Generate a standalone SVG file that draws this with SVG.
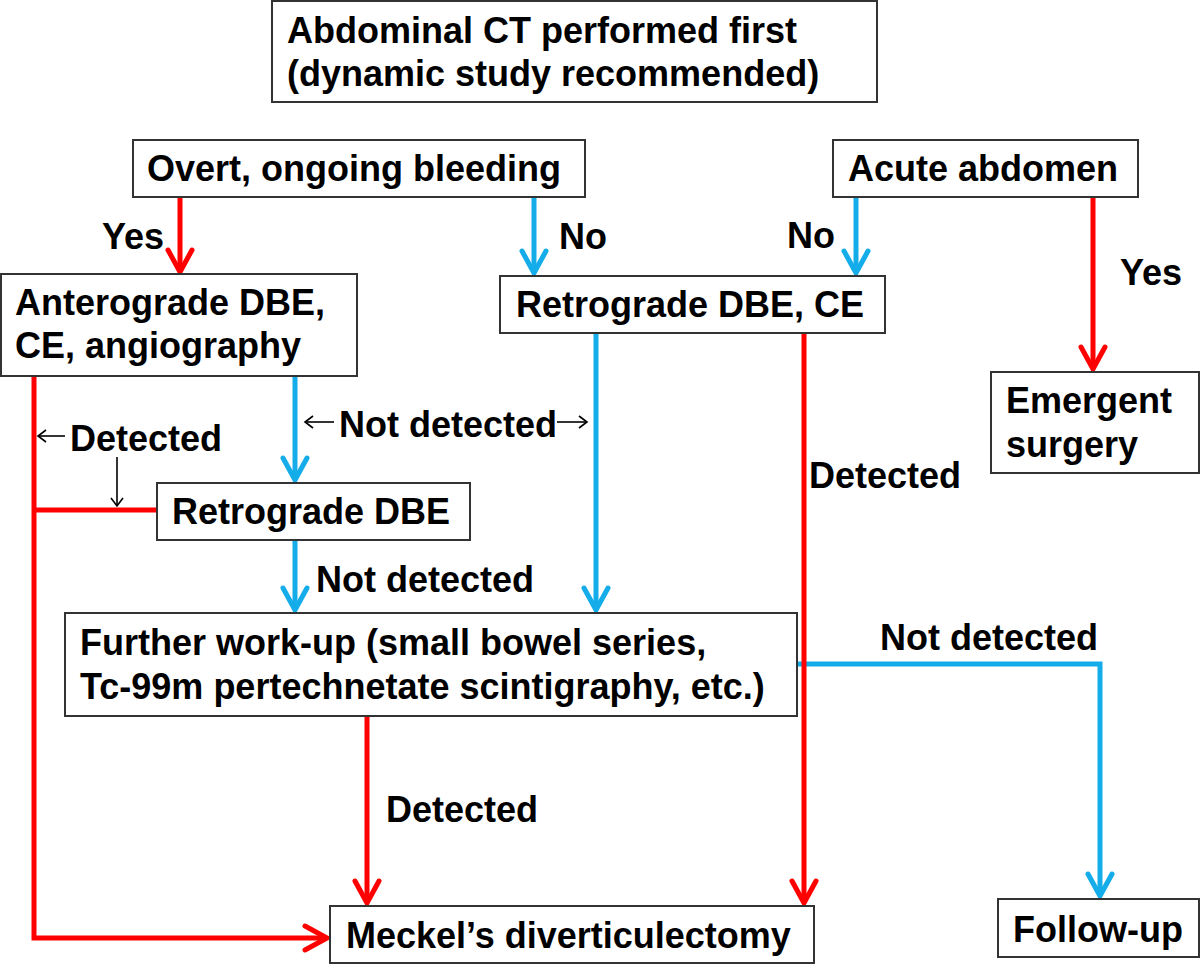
<svg xmlns="http://www.w3.org/2000/svg" width="1200" height="965" viewBox="0 0 1200 965">
<defs>
<style>
.box{fill:#fff;stroke:#333;stroke-width:2}
.t{font-family:"Liberation Sans",Arial,Helvetica,sans-serif;font-weight:bold;font-size:36px;fill:#000}
.red{stroke:#ff0000;stroke-width:5;fill:none}
.blue{stroke:#14ade9;stroke-width:5;fill:none}
.blk{stroke:#000;stroke-width:1.6;fill:none}
</style>
<marker id="ar" markerUnits="userSpaceOnUse" markerWidth="40" markerHeight="40" refX="0" refY="0" orient="auto" overflow="visible">
<path d="M-22,-12 L0,0 L-22,12" fill="none" stroke="#ff0000" stroke-width="5" stroke-linejoin="miter" stroke-linecap="round"/>
</marker>
<marker id="ab" markerUnits="userSpaceOnUse" markerWidth="40" markerHeight="40" refX="0" refY="0" orient="auto" overflow="visible">
<path d="M-22,-12 L0,0 L-22,12" fill="none" stroke="#14ade9" stroke-width="5" stroke-linejoin="miter" stroke-linecap="round"/>
</marker>
<marker id="ak" markerUnits="userSpaceOnUse" markerWidth="20" markerHeight="20" refX="0" refY="0" orient="auto" overflow="visible">
<path d="M-8,-6 L0,0 L-8,6" fill="none" stroke="#000" stroke-width="1.6"/>
</marker>
</defs>
<rect width="1200" height="965" fill="#fff"/>

<g id="connectors">
<line class="red" x1="180" y1="197" x2="180" y2="272" marker-end="url(#ar)"/>
<line class="blue" x1="534" y1="197" x2="534" y2="273" marker-end="url(#ab)"/>
<line class="blue" x1="856" y1="197" x2="856" y2="273" marker-end="url(#ab)"/>
<line class="red" x1="1093" y1="197" x2="1093" y2="369" marker-end="url(#ar)"/>
<polyline class="red" points="34,376 34,938 327,938" marker-end="url(#ar)"/>
<line class="red" x1="34" y1="510" x2="157" y2="510"/>
<line class="blue" x1="295" y1="376" x2="295" y2="480" marker-end="url(#ab)"/>
<line class="blue" x1="596" y1="333" x2="596" y2="610" marker-end="url(#ab)"/>
<line class="blue" x1="295" y1="540" x2="295" y2="610" marker-end="url(#ab)"/>
<polyline class="blue" points="797,664 1100,664 1100,896" marker-end="url(#ab)"/>
<line class="red" x1="804" y1="333" x2="804" y2="903" marker-end="url(#ar)"/>
<line class="red" x1="367" y1="716" x2="367" y2="903" marker-end="url(#ar)"/>
<line class="blk" x1="65" y1="436" x2="38" y2="436" marker-end="url(#ak)"/>
<line class="blk" x1="117" y1="457" x2="117" y2="506" marker-end="url(#ak)"/>
<line class="blk" x1="334" y1="422" x2="305" y2="422" marker-end="url(#ak)"/>
<line class="blk" x1="557" y1="422" x2="587" y2="422" marker-end="url(#ak)"/>
</g>

<g id="labels">
<text class="t" x="102" y="249">Yes</text>
<text class="t" x="559" y="249">No</text>
<text class="t" x="787" y="248">No</text>
<text class="t" x="1120" y="285">Yes</text>
<text class="t" x="70" y="451">Detected</text>
<text class="t" x="339" y="437">Not detected</text>
<text class="t" x="316" y="592">Not detected</text>
<text class="t" x="809" y="488">Detected</text>
<text class="t" x="386" y="822">Detected</text>
<text class="t" x="880" y="650">Not detected</text>
</g>

<g id="n-ct">
<rect class="box" x="272" y="1" width="605" height="101"/>
<text class="t" x="287" y="43">Abdominal CT performed first</text>
<text class="t" x="287" y="86">(dynamic study recommended)</text>
</g>
<g id="n-overt">
<rect class="box" x="133" y="140" width="452" height="57"/>
<text class="t" x="147" y="181">Overt, ongoing bleeding</text>
</g>
<g id="n-acute">
<rect class="box" x="833" y="140" width="305" height="57"/>
<text class="t" x="848" y="181">Acute abdomen</text>
</g>
<g id="n-antero">
<rect class="box" x="1" y="274" width="356" height="102"/>
<text class="t" x="15" y="315">Anterograde DBE,</text>
<text class="t" x="15" y="358">CE, angiography</text>
</g>
<g id="n-retro-ce">
<rect class="box" x="500" y="276" width="385" height="57"/>
<text class="t" x="516" y="317">Retrograde DBE, CE</text>
</g>
<g id="n-emergent">
<rect class="box" x="991" y="372" width="208" height="101"/>
<text class="t" x="1006" y="413">Emergent</text>
<text class="t" x="1006" y="457">surgery</text>
</g>
<g id="n-retro">
<rect class="box" x="157" y="483" width="313" height="57"/>
<text class="t" x="172" y="524">Retrograde DBE</text>
</g>
<g id="n-further">
<rect class="box" x="65" y="613" width="732" height="103"/>
<text class="t" x="80" y="655">Further work-up (small bowel series,</text>
<text class="t" x="80" y="699">Tc-99m pertechnetate scintigraphy, etc.)</text>
</g>
<g id="n-meckel">
<rect class="box" x="330" y="906" width="484" height="57"/>
<text class="t" x="346" y="948">Meckel’s diverticulectomy</text>
</g>
<g id="n-follow">
<rect class="box" x="998" y="899" width="201" height="58"/>
<text class="t" x="1013" y="942">Follow-up</text>
</g>
</svg>
